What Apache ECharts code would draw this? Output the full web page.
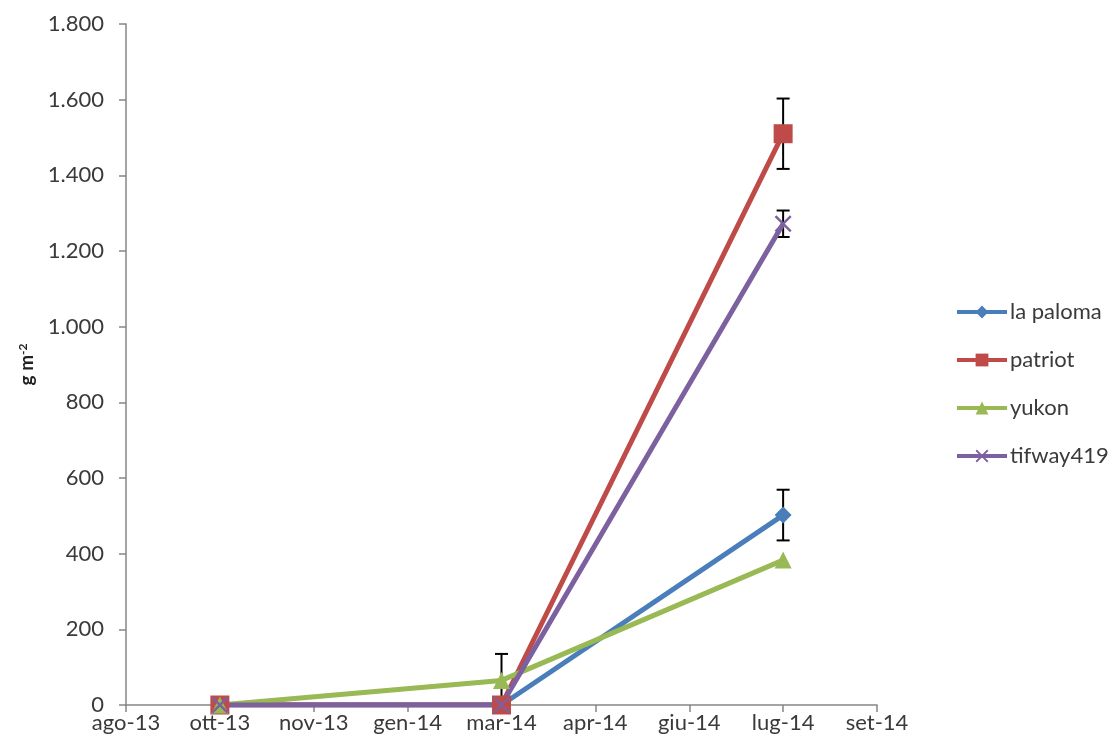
<!DOCTYPE html>
<html>
<head>
<meta charset="utf-8">
<script src="https://cdn.jsdelivr.net/npm/echarts@6/dist/echarts.min.js"></script>
<style>
  html, body { margin: 0; padding: 0; background: #ffffff; }
  #chart { width: 1118px; height: 753px; }
</style>
</head>
<body>
<div id="chart"></div>
<script>
// Date-axis tick labels (Italian month abbreviations)
const axisLabels = ['ago-13', 'ott-13', 'nov-13', 'gen-14', 'mar-14', 'apr-14', 'giu-14', 'lug-14', 'set-14'];
// Sampling dates
const sampleDates = ['ott-13', 'mar-14', 'lug-14'];

// Biomass, g m-2
const laPaloma  = [0, 0, 502];
const patriot   = [0, 0, 1510];
const yukon     = [0, 65, 383];
const tifway419 = [0, 0, 1272];

// Standard errors
const laPalomaErr  = [0, 0, 67];
const patriotErr   = [0, 0, 93];
const yukonErr     = [0, 70, 0];
const tifway419Err = [0, 0, 35];

const seriesNames = ['la paloma', 'patriot', 'yukon', 'tifway419'];
const colors = ['#4A7EBB', '#BE4B48', '#98B954', '#7D60A0'];

const FONT = 'Lato';
const TEXT = '#3a3a3a';

const X_SYMBOL = 'path://M0,1 L1,0 L5,4 L9,0 L10,1 L6,5 L10,9 L9,10 L5,6 L1,10 L0,9 L4,5 Z';

function pairs(values) {
  return sampleDates.map((d, i) => [d, values[i]]);
}
function errPairs(values, errs) {
  const out = [];
  sampleDates.forEach((d, i) => {
    if (errs[i] > 0) out.push([d, Math.max(0, values[i] - errs[i]), values[i] + errs[i]]);
  });
  return out;
}

// Vertical error bar with caps (lower cap omitted when clipped at zero)
function renderErr(params, api) {
  const x = api.value(0);
  const lo = api.coord([x, api.value(1)]);
  const hi = api.coord([x, api.value(2)]);
  const w = 6.5;
  const st = { stroke: '#000', lineWidth: 2 };
  const children = [
    { type: 'line', shape: { x1: lo[0], y1: lo[1], x2: hi[0], y2: hi[1] }, style: st },
    { type: 'line', shape: { x1: hi[0] - w, y1: hi[1], x2: hi[0] + w, y2: hi[1] }, style: st }
  ];
  if (api.value(1) > 0) {
    children.push({ type: 'line', shape: { x1: lo[0] - w, y1: lo[1], x2: lo[0] + w, y2: lo[1] }, style: st });
  }
  return { type: 'group', children };
}

const lineData = [laPaloma, patriot, yukon, tifway419];
const errData = [laPalomaErr, patriotErr, yukonErr, tifway419Err];
const symbols = ['diamond', 'rect', 'triangle', X_SYMBOL];
const symbolSizes = [17, 19, 17, 17];

const series = [];
lineData.forEach((vals, i) => {
  series.push({
    name: seriesNames[i] + ' err',
    type: 'custom',
    renderItem: renderErr,
    encode: { x: 0, y: [1, 2] },
    data: errPairs(vals, errData[i]),
    z: 1,
    silent: true
  });
});
lineData.forEach((vals, i) => {
  series.push({
    name: seriesNames[i],
    type: 'line',
    data: pairs(vals),
    symbol: symbols[i],
    symbolSize: symbolSizes[i],
    showAllSymbol: true,
    lineStyle: { color: colors[i], width: 5 },
    itemStyle: { color: colors[i], borderWidth: 0 },
    z: 3
  });
});

const chart = echarts.init(document.getElementById('chart'), null, { renderer: 'canvas' });
chart.setOption({
  animation: false,
  color: colors,
  grid: { left: 126, right: 241, top: 24, bottom: 48, containLabel: false },
  legend: {
    data: seriesNames,
    orient: 'vertical',
    left: 950,
    top: 296,
    itemWidth: 50,
    itemHeight: 16,
    itemGap: 26,
    lineStyle: { width: 4 },
    textStyle: { fontFamily: FONT, fontSize: 22, color: TEXT, padding: [0, 0, 0, -2] }
  },
  xAxis: {
    type: 'category',
    data: axisLabels,
    boundaryGap: false,
    axisLine: { lineStyle: { color: '#868686', width: 1.5 } },
    axisTick: { show: true, inside: false, length: 7, alignWithLabel: true, lineStyle: { color: '#868686', width: 1.5 } },
    axisLabel: { fontFamily: FONT, fontSize: 22, color: TEXT, margin: 7, interval: 0 },
    splitLine: { show: false }
  },
  yAxis: {
    type: 'value',
    min: 0,
    max: 1800,
    interval: 200,
    name: '{b|g m}{s|-2}',
    nameLocation: 'middle',
    nameGap: 82,
    nameTextStyle: {
      rich: {
        b: { fontFamily: FONT, fontSize: 19, fontWeight: 'bold', color: '#222' },
        s: { fontFamily: FONT, fontSize: 12, fontWeight: 'bold', color: '#222', verticalAlign: 'top', padding: [0, 0, 9, 0] }
      }
    },
    axisLine: { show: true, lineStyle: { color: '#868686', width: 1.5 } },
    axisTick: { show: true, inside: false, length: 7, lineStyle: { color: '#868686', width: 1.5 } },
    axisLabel: {
      fontFamily: FONT, fontSize: 22, color: TEXT, margin: 22,
      formatter: v => String(v).replace(/\B(?=(\d{3})+(?!\d))/g, '.')
    },
    splitLine: { show: false }
  },
  series
});
</script>
</body>
</html>
